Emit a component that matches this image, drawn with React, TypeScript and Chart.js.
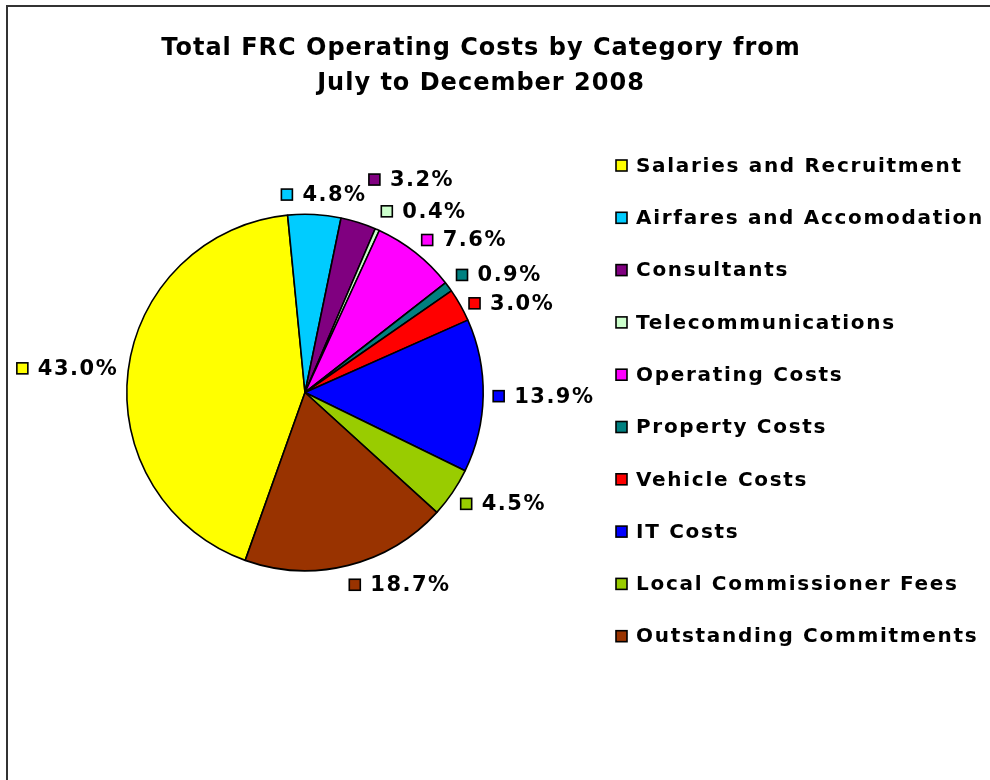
import { useEffect, useRef } from "react";
import { Chart, registerables } from "chart.js";

Chart.register(...registerables);

const TITLE_LINES = ["Total FRC Operating Costs by Category from", "July to December 2008"];

const CATEGORIES = [
  "Salaries and Recruitment",
  "Airfares and Accomodation",
  "Consultants",
  "Telecommunications",
  "Operating Costs",
  "Property Costs",
  "Vehicle Costs",
  "IT Costs",
  "Local Commissioner Fees",
  "Outstanding Commitments",
];

const SHARES = [43.0, 4.8, 3.2, 0.4, 7.6, 0.9, 3.0, 13.9, 4.5, 18.7];

const COLORS = [
  "#FFFF00",
  "#00CCFF",
  "#800080",
  "#CCFFCC",
  "#FF00FF",
  "#008080",
  "#FF0000",
  "#0000FF",
  "#99CC00",
  "#993300",
];

const FONT = '"DejaVu Sans", Verdana, sans-serif';

function setSpacing(ctx: any, px: number) {
  try {
    ctx.letterSpacing = px + "px";
  } catch (e) {}
}

type Box = { x: number; y: number; w: number; h: number };

function overlaps(a: Box, b: Box, padX: number, padY: number) {
  return a.x < b.x + b.w + padX && a.x + a.w + padX > b.x && a.y < b.y + b.h + padY && a.y + a.h + padY > b.y;
}

const decorPlugin = {
  id: "decor",
  beforeDraw(chart: any) {
    const ctx = chart.ctx;
    ctx.save();
    ctx.fillStyle = "#ffffff";
    ctx.fillRect(0, 0, chart.width, chart.height);
    ctx.strokeStyle = "#333333";
    ctx.lineWidth = 2;
    ctx.strokeRect(7, 6, chart.width + 50, chart.height + 50);
    ctx.restore();
  },
  afterDraw(chart: any) {
    const ctx = chart.ctx;
    ctx.save();
    // Title
    ctx.fillStyle = "#000000";
    ctx.font = "bold 24px " + FONT;
    setSpacing(ctx, 1);
    ctx.textAlign = "center";
    ctx.textBaseline = "middle";
    TITLE_LINES.forEach((line, i) => {
      ctx.fillText(line, 481, 49 + i * 35);
    });

    // Legend
    ctx.font = "bold 20px " + FONT;
    setSpacing(ctx, 1.7);
    ctx.textAlign = "left";
    CATEGORIES.forEach((name, i) => {
      const cy = 165.5 + i * 52.3;
      ctx.fillStyle = COLORS[i];
      ctx.fillRect(616, cy - 5.5, 11, 11);
      ctx.strokeStyle = "#000000";
      ctx.lineWidth = 1.6;
      ctx.strokeRect(616, cy - 5.5, 11, 11);
      ctx.fillStyle = "#000000";
      ctx.fillText(name, 636, cy + 1);
    });

    // Data labels
    const meta = chart.getDatasetMeta(0);
    const placed: Box[] = [];
    ctx.font = "bold 21px " + FONT;
    setSpacing(ctx, 1.5);
    const h = 20;
    const sq = 11;
    const gap = 10;
    meta.data.forEach((arc: any, i: number) => {
      const p = arc.getProps(["x", "y", "startAngle", "endAngle", "outerRadius"], true);
      const mid = (p.startAngle + p.endAngle) / 2;
      const dx = Math.cos(mid);
      const dy = Math.sin(mid);
      const text = SHARES[i].toFixed(1) + "%";
      const tw = ctx.measureText(text).width;
      const w = sq + gap + tw;
      const r0 = p.outerRadius + 10;
      const ax = p.x + dx * r0;
      const ay = p.y + dy * r0;
      const fx = Math.max(-1, Math.min(1, 4 * dx));
      let box: Box = { x: ax + (w / 2) * fx - w / 2, y: ay + (h / 2) * dy - h / 2, w, h };
      const radial = Math.abs(dy) > 0.85;
      const padY = radial ? 2 : 8;
      for (let k = 0; k < 300; k++) {
        const hit = placed.find((b) => overlaps(box, b, 2, padY));
        if (!hit) break;
        if (radial) {
          box = { ...box, x: box.x + dx, y: box.y + dy };
        } else {
          const down = box.y + h / 2 >= hit.y + hit.h / 2;
          box = { ...box, y: box.y + (down ? 1 : -1) };
        }
      }
      placed.push(box);
      const cy = box.y + h / 2;
      ctx.fillStyle = COLORS[i];
      ctx.fillRect(box.x, cy - sq / 2, sq, sq);
      ctx.strokeStyle = "#000000";
      ctx.lineWidth = 1.6;
      ctx.strokeRect(box.x, cy - sq / 2, sq, sq);
      ctx.fillStyle = "#000000";
      ctx.fillText(text, box.x + sq + gap, cy + 1);
    });
    setSpacing(ctx, 0);
    ctx.restore();
  },
};

export default function App() {
  const ref = useRef<HTMLCanvasElement | null>(null);
  useEffect(() => {
    if (!ref.current) return;
    const chart = new Chart(ref.current, {
      type: "pie",
      data: {
        labels: CATEGORIES,
        datasets: [
          {
            data: SHARES,
            backgroundColor: COLORS,
            borderColor: "#000000",
            borderWidth: 1.6,
            borderAlign: "center",
          },
        ],
      },
      options: {
        animation: false,
        responsive: false,
        rotation: -160.4,
        layout: {
          padding: { left: 126, right: 506, top: 213, bottom: 208 },
        },
        plugins: {
          legend: { display: false },
          title: { display: false },
          tooltip: { enabled: false },
        },
      },
      plugins: [decorPlugin],
    } as any);
    return () => chart.destroy();
  }, []);
  return (
    <div style={{ position: "absolute", left: 0, top: 0, width: 990, height: 780 }}>
      <canvas ref={ref} width={990} height={780} style={{ width: 990, height: 780, display: "block" }} />
    </div>
  );
}
